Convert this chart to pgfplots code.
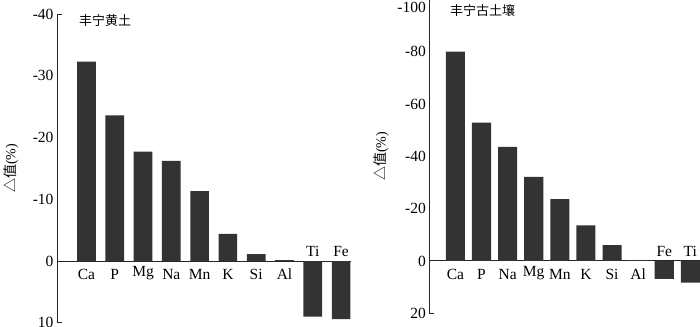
\documentclass[border=0pt]{standalone}
\usepackage{fontspec}
\setmainfont{Liberation Serif}
\newfontfamily\cjk{Noto Sans CJK SC}
\usepackage{pgfplots}
\pgfplotsset{compat=1.18}

\definecolor{barink}{HTML}{333333}
\pgfplotsset{
  delta axis/.style={
    scale only axis,
    anchor=south west,
    y dir=reverse,
    axis y line=left,
    axis x line=middle,
    axis line style={-, line width=1pt, draw=black!85},
    xtick=\empty,
    tick align=inside,
    major tick length=0pt,
    extra y tick labels={},
    extra y tick style={major tick length=5pt, tick style={line width=1pt, draw=black!85}},
    tick label style={font=\fontsize{15.5}{16}\selectfont},
    /pgf/number format/assume math mode=true,
    ylabel style={font=\fontsize{14}{15}\selectfont, at={(rel axis cs:0,0.5)}, anchor=center},
    ybar, bar shift=0pt,
    clip=false,
  },
}
\tikzset{elem/.style={font=\fontsize{15.5}{16}\selectfont, inner sep=0pt, anchor=south}}

\begin{document}
\begin{tikzpicture}
% left panel
\begin{axis}[delta axis,
  at={(57pt,3.25pt)}, width=294pt, height=308.75pt,
  xmin=-1.04, xmax=9.35, ymin=-40, ymax=10,
  ytick={-40,-30,...,10}, extra y ticks={-40,10},
  bar width=0.66,
  ylabel={{\cjk △值}(\%)}, ylabel style={yshift=46pt}]
\addplot[fill=barink, draw=none] coordinates {
  (0,-32.3) (1,-23.6) (2,-17.7) (3,-16.2) (4,-11.3)
  (5,-4.4) (6,-1.1) (7,-0.15) (8,9.0) (9,9.4)
};
\node[elem, yshift=-19pt] at (axis cs:0,0) {Ca};
\node[elem, yshift=-19pt] at (axis cs:1,0) {P};
\node[elem, yshift=-19pt] at (axis cs:2,0) {Mg};
\node[elem, yshift=-19pt] at (axis cs:3,0) {Na};
\node[elem, yshift=-19pt] at (axis cs:4,0) {Mn};
\node[elem, yshift=-19pt] at (axis cs:5,0) {K};
\node[elem, yshift=-19pt] at (axis cs:6,0) {Si};
\node[elem, yshift=-19pt] at (axis cs:7,0) {Al};
\node[elem, yshift=4.3pt] at (axis cs:8,0) {Ti};
\node[elem, yshift=4.3pt] at (axis cs:9,0) {Fe};
\end{axis}
% right panel
\begin{axis}[delta axis,
  at={(429.3pt,12.7pt)}, width=270.7pt, height=314pt,
  xmin=-1, xmax=9.37, ymin=-100, ymax=20,
  ytick={-80,-60,...,20}, extra y ticks={-100,20},
  extra y tick labels={-100,{}},
  extra y tick style={yticklabel style={yshift=-8pt}},
  bar width=0.73,
  ylabel={{\cjk △值}(\%)}, ylabel style={yshift=48pt}]
\addplot[fill=barink, draw=none] coordinates {
  (0,-80.0) (1,-52.9) (2,-43.6) (3,-32.1) (4,-23.6)
  (5,-13.6) (6,-6.1) (7,-0.3) (8,6.8) (9,8.3)
};
\node[elem, yshift=-19pt] at (axis cs:0,0) {Ca};
\node[elem, yshift=-19pt] at (axis cs:1,0) {P};
\node[elem, yshift=-19pt] at (axis cs:2,0) {Na};
\node[elem, yshift=-19pt] at (axis cs:3,0) {Mg};
\node[elem, yshift=-19pt] at (axis cs:4,0) {Mn};
\node[elem, yshift=-19pt] at (axis cs:5,0) {K};
\node[elem, yshift=-19pt] at (axis cs:6,0) {Si};
\node[elem, yshift=-19pt] at (axis cs:7,0) {Al};
\node[elem, yshift=4.3pt] at (axis cs:8,0) {Fe};
\node[elem, yshift=4.3pt] at (axis cs:9,0) {Ti};
\end{axis}
\node[anchor=west, inner sep=0pt, font=\cjk\fontsize{13}{14}\selectfont] at (79pt,305pt) {丰宁黄土};
\node[anchor=west, inner sep=0pt, font=\cjk\fontsize{13}{14}\selectfont] at (450pt,315.3pt) {丰宁古土壤};
\pgfresetboundingbox
\useasboundingbox (0,0) rectangle (700pt,326pt);
\end{tikzpicture}
\end{document}
